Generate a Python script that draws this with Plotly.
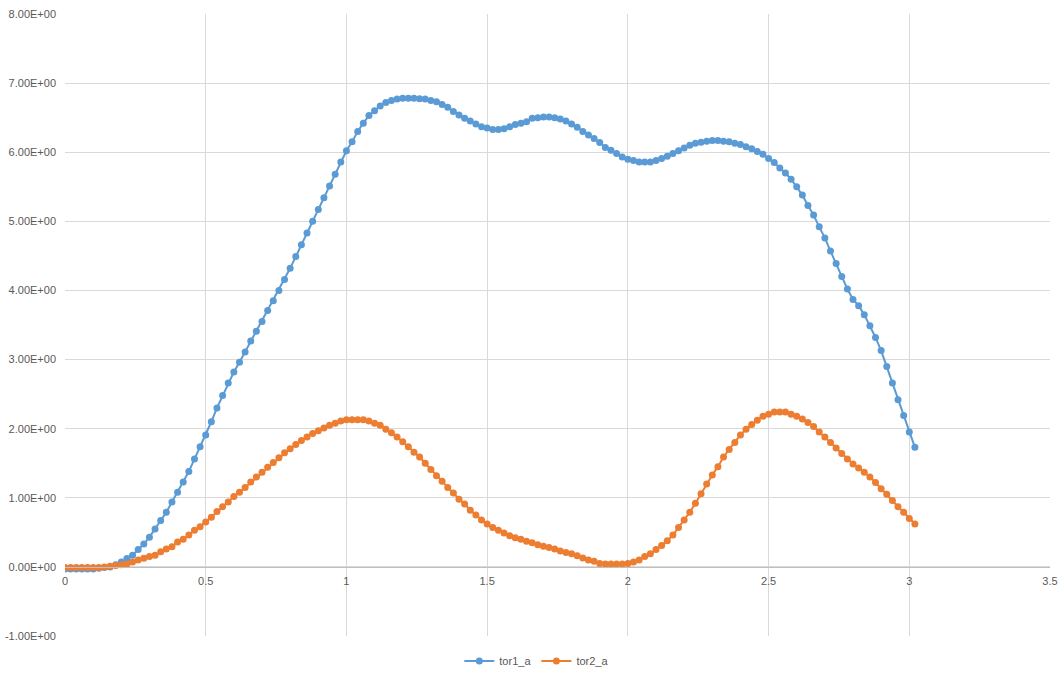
import plotly.graph_objects as go

x_vals = [0.00, 0.02, 0.04, 0.06, 0.08, 0.10, 0.12, 0.14, 0.16, 0.18,
          0.20, 0.22, 0.24, 0.26, 0.28, 0.30, 0.32, 0.34, 0.36, 0.38,
          0.40, 0.42, 0.44, 0.46, 0.48, 0.50, 0.52, 0.54, 0.56, 0.58,
          0.60, 0.62, 0.64, 0.66, 0.68, 0.70, 0.72, 0.74, 0.76, 0.78,
          0.80, 0.82, 0.84, 0.86, 0.88, 0.90, 0.92, 0.94, 0.96, 0.98,
          1.00, 1.02, 1.04, 1.06, 1.08, 1.10, 1.12, 1.14, 1.16, 1.18,
          1.20, 1.22, 1.24, 1.26, 1.28, 1.30, 1.32, 1.34, 1.36, 1.38,
          1.40, 1.42, 1.44, 1.46, 1.48, 1.50, 1.52, 1.54, 1.56, 1.58,
          1.60, 1.62, 1.64, 1.66, 1.68, 1.70, 1.72, 1.74, 1.76, 1.78,
          1.80, 1.82, 1.84, 1.86, 1.88, 1.90, 1.92, 1.94, 1.96, 1.98,
          2.00, 2.02, 2.04, 2.06, 2.08, 2.10, 2.12, 2.14, 2.16, 2.18,
          2.20, 2.22, 2.24, 2.26, 2.28, 2.30, 2.32, 2.34, 2.36, 2.38,
          2.40, 2.42, 2.44, 2.46, 2.48, 2.50, 2.52, 2.54, 2.56, 2.58,
          2.60, 2.62, 2.64, 2.66, 2.68, 2.70, 2.72, 2.74, 2.76, 2.78,
          2.80, 2.82, 2.84, 2.86, 2.88, 2.90, 2.92, 2.94, 2.96, 2.98,
          3.00, 3.02]

tor1_a = [-0.03, -0.03, -0.03, -0.03, -0.03, -0.03, -0.02, -0.01, 0.00, 0.03,
          0.07, 0.12, 0.17, 0.25, 0.33, 0.43, 0.55, 0.67, 0.79, 0.94,
          1.08, 1.23, 1.38, 1.56, 1.74, 1.91, 2.10, 2.30, 2.48, 2.66,
          2.82, 2.96, 3.11, 3.27, 3.41, 3.55, 3.71, 3.85, 4.00, 4.16,
          4.32, 4.49, 4.66, 4.83, 5.00, 5.17, 5.34, 5.51, 5.68, 5.86,
          6.02, 6.15, 6.30, 6.42, 6.53, 6.60, 6.67, 6.72, 6.75, 6.77,
          6.78, 6.78, 6.78, 6.775, 6.77, 6.75, 6.73, 6.69, 6.65, 6.59,
          6.54, 6.49, 6.45, 6.41, 6.37, 6.35, 6.33, 6.33, 6.34, 6.37,
          6.40, 6.42, 6.44, 6.49, 6.50, 6.51, 6.51, 6.50, 6.48, 6.45,
          6.41, 6.36, 6.30, 6.25, 6.20, 6.14, 6.07, 6.03, 5.98, 5.93,
          5.90, 5.88, 5.86, 5.86, 5.86, 5.88, 5.91, 5.94, 5.98, 6.02,
          6.06, 6.10, 6.13, 6.145, 6.16, 6.17, 6.17, 6.16, 6.15, 6.13,
          6.11, 6.08, 6.05, 6.01, 5.97, 5.91, 5.85, 5.77, 5.70, 5.61,
          5.50, 5.38, 5.23, 5.09, 4.92, 4.76, 4.57, 4.39, 4.20, 4.02,
          3.87, 3.78, 3.65, 3.49, 3.32, 3.13, 2.90, 2.66, 2.42, 2.19,
          1.95, 1.73]

tor2_a = [-0.01, -0.01, -0.01, -0.01, -0.01, -0.01, -0.01, 0.00, 0.01, 0.02,
          0.03, 0.04, 0.07, 0.10, 0.125, 0.15, 0.17, 0.22, 0.26, 0.29,
          0.36, 0.40, 0.46, 0.53, 0.58, 0.65, 0.72, 0.80, 0.87, 0.94,
          1.02, 1.08, 1.15, 1.23, 1.30, 1.37, 1.44, 1.51, 1.58, 1.65,
          1.71, 1.77, 1.83, 1.88, 1.93, 1.97, 2.01, 2.05, 2.08, 2.11,
          2.13, 2.13, 2.13, 2.13, 2.11, 2.08, 2.05, 1.99, 1.94, 1.88,
          1.81, 1.74, 1.66, 1.59, 1.50, 1.41, 1.32, 1.24, 1.15, 1.07,
          0.98, 0.91, 0.82, 0.75, 0.68, 0.62, 0.57, 0.53, 0.49, 0.45,
          0.42, 0.40, 0.37, 0.35, 0.32, 0.30, 0.28, 0.26, 0.23, 0.21,
          0.19, 0.16, 0.13, 0.10, 0.08, 0.05, 0.04, 0.04, 0.04, 0.04,
          0.05, 0.07, 0.10, 0.15, 0.19, 0.25, 0.31, 0.38, 0.46, 0.57,
          0.68, 0.79, 0.92, 1.06, 1.20, 1.33, 1.45, 1.59, 1.70, 1.80,
          1.91, 1.99, 2.06, 2.12, 2.18, 2.21, 2.24, 2.24, 2.24, 2.21,
          2.18, 2.14, 2.09, 2.03, 1.95, 1.88, 1.80, 1.72, 1.64, 1.56,
          1.49, 1.43, 1.37, 1.30, 1.22, 1.13, 1.05, 0.96, 0.87, 0.79,
          0.70, 0.62]

y_ticks = [-1, 0, 1, 2, 3, 4, 5, 6, 7, 8]
y_tick_text = ["-1.00E+00", "0.00E+00", "1.00E+00", "2.00E+00", "3.00E+00",
               "4.00E+00", "5.00E+00", "6.00E+00", "7.00E+00", "8.00E+00"]
x_ticks = [0, 0.5, 1, 1.5, 2, 2.5, 3, 3.5]
x_tick_text = ["0", "0.5", "1", "1.5", "2", "2.5", "3", "3.5"]

series = [("tor1_a", tor1_a, "#5B9BD5"), ("tor2_a", tor2_a, "#ED7D31")]

fig = go.Figure()
for name, vals, col in series:
    fig.add_trace(go.Scatter(
        x=x_vals, y=vals, name=name, mode="lines+markers",
        line=dict(color=col, width=2),
        marker=dict(color=col, size=7, line=dict(width=0)),
    ))

font_col = "#595959"
fig.update_layout(
    width=1063, height=677,
    margin=dict(l=65, r=13, t=14, b=41, autoexpand=False),
    paper_bgcolor="white", plot_bgcolor="white",
    font=dict(family="Liberation Sans, Arial, sans-serif", size=11, color=font_col),
    showlegend=True,
    legend=dict(orientation="h", x=0.479, xanchor="center", y=-0.04, yanchor="middle",
                font=dict(size=11, color=font_col), itemwidth=30, tracegroupgap=0),
    xaxis=dict(range=[0, 3.5], tickvals=x_ticks, ticktext=x_tick_text,
               showgrid=True, gridcolor="#D9D9D9", gridwidth=1,
               zeroline=False, showline=True, linecolor="#BFBFBF", linewidth=1,
               anchor="free", position=1/9, ticks="", automargin=False,
               ticklabelstandoff=4,
               tickfont=dict(size=11, color=font_col)),
    yaxis=dict(range=[-1, 8], tickvals=y_ticks, ticktext=y_tick_text,
               showgrid=True, gridcolor="#D9D9D9", gridwidth=1,
               zeroline=False, showline=False, ticks="", automargin=False,
               ticklabelstandoff=8,
               tickfont=dict(size=11, color=font_col)),
)

fig.write_html("out.html")
